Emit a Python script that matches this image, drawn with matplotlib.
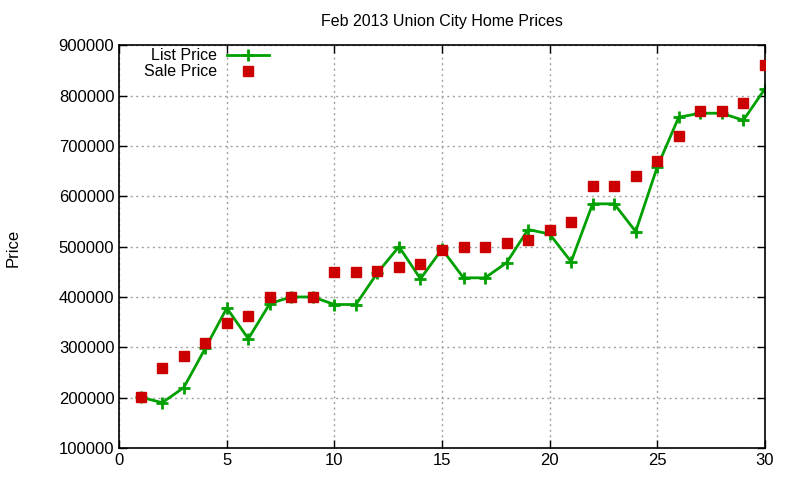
import matplotlib
matplotlib.use('Agg')
import matplotlib.pyplot as plt

plt.rcParams['font.family'] = ['Liberation Sans', 'DejaVu Sans']

days = list(range(1, 31))
list_price = [201000, 190000, 220000, 298000, 378000, 317000, 387000, 400000, 400000, 385000,
              385000, 448000, 500000, 436000, 495000, 438000, 438000, 468000, 534000, 525000,
              470000, 585000, 585000, 530000, 658000, 757000, 765000, 765000, 751000, 813000]
sale_price = [202000, 259000, 283000, 309000, 349000, 362000, 400000, 400000, 400000, 450000,
              450000, 452000, 460000, 466000, 494000, 500000, 500000, 507000, 513000, 534000,
              549000, 620000, 620000, 640000, 670000, 720000, 769000, 769000, 785000, 860000]
x_ticks = [0, 5, 10, 15, 20, 25, 30]
y_ticks = [100000, 200000, 300000, 400000, 500000, 600000, 700000, 800000, 900000]

fig = plt.figure(figsize=(8, 4.8), dpi=100)
ax = fig.add_axes([0.149, 0.0667, 0.807, 0.839])

ax.plot(days, list_price, color='#00a000', linewidth=2, marker='+', markersize=9,
        markeredgewidth=2, label='List Price', zorder=2)
ax.plot(days, sale_price, linestyle='none', color='#cc0000', marker='s', markersize=6.5,
        label='Sale Price', zorder=3)

ax.set_xlim(0, 30)
ax.set_ylim(100000, 900000)
ax.set_xticks(x_ticks)
ax.set_yticks(y_ticks)
ax.set_yticklabels([str(v) for v in y_ticks])
ax.tick_params(direction='in', top=True, right=True, labelsize=12, length=6, width=1)
ax.grid(True, color='#a0a0a0', linestyle=(0, (1.5, 2.5)), linewidth=1)
for s in ax.spines.values():
    s.set_linewidth(1.2)

ax.set_title('Feb 2013 Union City Home Prices', fontsize=11.5, pad=14)
fig.text(0.016, 0.484, 'Price', rotation=90, fontsize=12, va='center', ha='center')

leg = ax.legend(loc='upper left', bbox_to_anchor=(0.024, 1.016), frameon=False,
                markerfirst=False, fontsize=11.5, handlelength=2.6, borderaxespad=0.2,
                labelspacing=0.05, handletextpad=0.6)
for t in leg.get_texts():
    t.set_ha('right')

fig.savefig('out.png', dpi=100)
